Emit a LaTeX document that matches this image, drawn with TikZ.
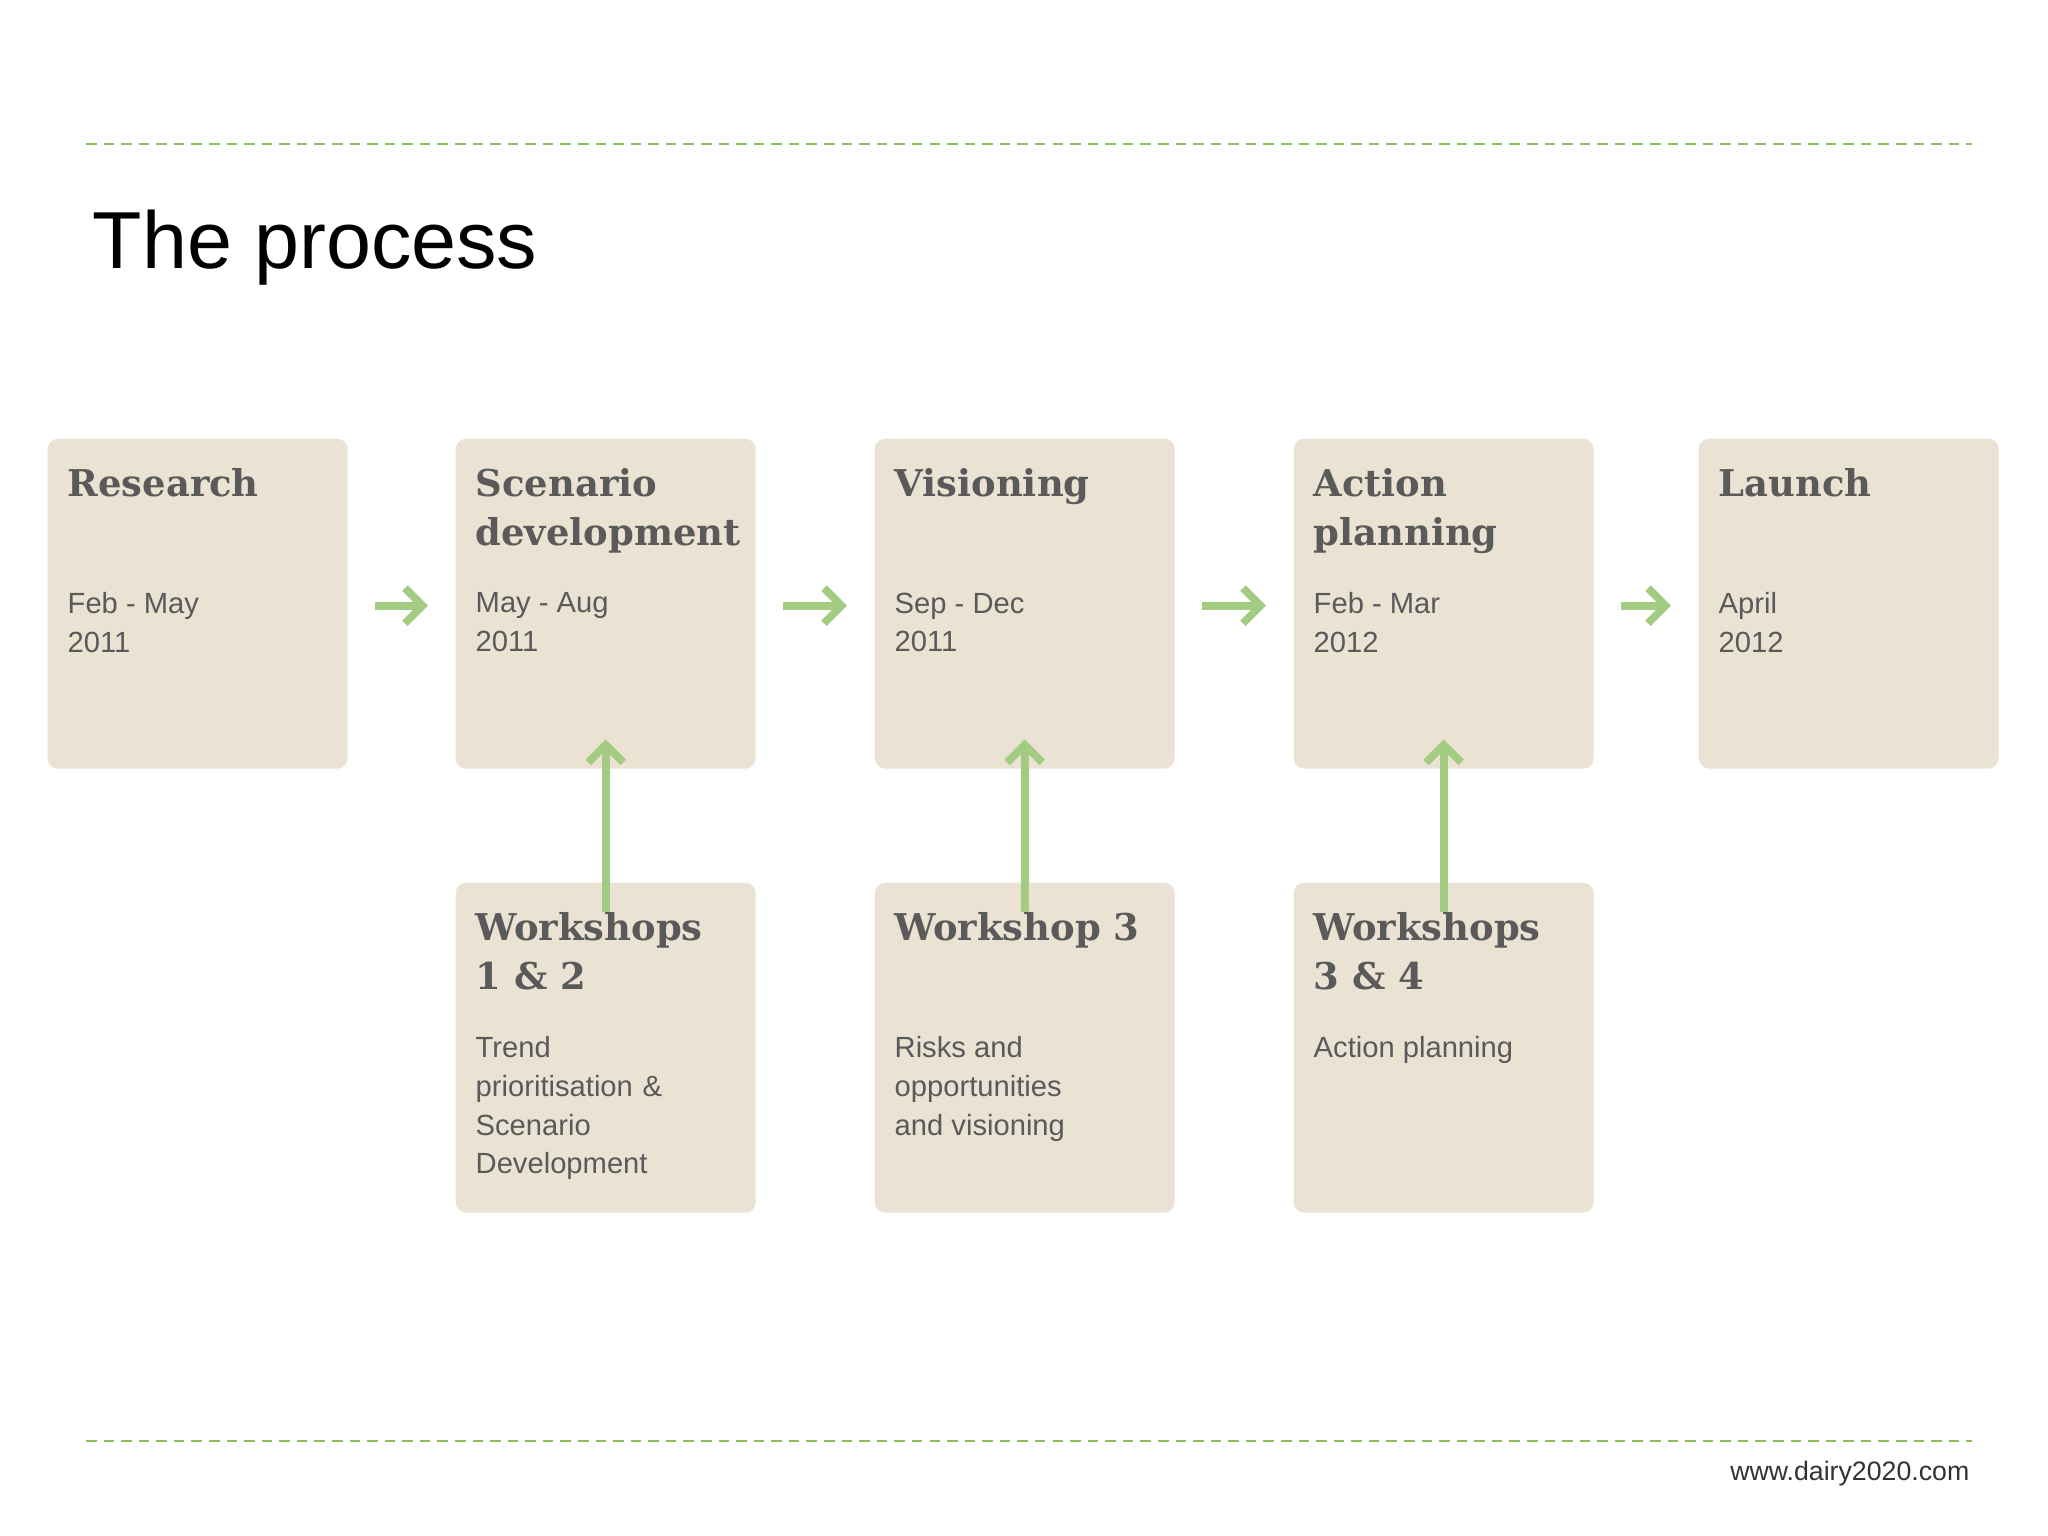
\documentclass[tikz,border=0pt]{standalone}
\usepackage{fontspec}
\setmainfont{Liberation Sans}
\newfontfamily\slab{DejaVu Serif}
\usetikzlibrary{arrows.meta}
\definecolor{boxfill}{HTML}{EAE3D3}
\definecolor{grn}{HTML}{8DBE5C}
\definecolor{arr}{HTML}{A3CB82}
\definecolor{txt}{HTML}{5A5A5A}
\tikzset{
  card/.style={fill=boxfill,rounded corners=3pt,minimum width=3.0cm,minimum height=3.3cm,inner sep=0pt},
  ttl/.style={anchor=north west,inner sep=0pt,align=left,text=txt,font=\slab\bfseries\fontsize{10.5}{14}\selectfont},
  bod/.style={anchor=north west,inner sep=0pt,align=left,text=txt,font=\fontsize{8.3}{11}\selectfont},
  harr/.style={arr,line width=2.2pt,-{Straight Barb[length=5pt,width=10pt,line width=2.2pt]}},
  sep/.style={grn,dashed,line width=0.6pt,dash pattern=on 3pt off 2pt}
}
\begin{document}
\begin{tikzpicture}[x=1cm,y=-1cm]
\useasboundingbox[fill=white] (0,0) rectangle (20.48,15.36);
\draw[sep] (0.86,1.44) -- (19.72,1.44);
\draw[sep] (0.86,14.41) -- (19.72,14.41);
\node[anchor=west,inner sep=0pt,font=\fontsize{23}{26}\selectfont] (title) at (0.92,2.48) {The process};
\node[anchor=east,inner sep=0pt,font=\fontsize{7.6}{9}\selectfont,text=black!80] (web) at (19.70,14.74) {www.dairy2020.com};
% top row
\foreach \n/\x in {r/0.47,s/4.55,v/8.74,a/12.93,l/16.98}{
  \node[card,anchor=north west] (\n) at (\x,4.38) {};
}
\foreach \n/\x in {ws/4.55,wv/8.74,wa/12.93}{
  \node[card,anchor=north west] (\n) at (\x,8.82) {};
}
\node[ttl] (rt) at ([xshift=0.2cm,yshift=-0.3cm]r.north west) {Research};
\node[ttl] (st) at ([xshift=0.2cm,yshift=-0.3cm]s.north west) {Scenario\\development};
\node[ttl] (vt) at ([xshift=0.2cm,yshift=-0.3cm]v.north west) {Visioning};
\node[ttl] (at) at ([xshift=0.2cm,yshift=-0.3cm]a.north west) {Action\\planning};
\node[ttl] (lt) at ([xshift=0.2cm,yshift=-0.3cm]l.north west) {Launch};
\node[bod] (rd) at ([xshift=0.2cm,yshift=-1.54cm]r.north west) {Feb - May\\2011};
\node[bod] (sd) at ([xshift=0.2cm,yshift=-1.54cm]s.north west) {May - Aug\\2011};
\node[bod] (vd) at ([xshift=0.2cm,yshift=-1.54cm]v.north west) {Sep - Dec\\2011};
\node[bod] (ad) at ([xshift=0.2cm,yshift=-1.54cm]a.north west) {Feb - Mar\\2012};
\node[bod] (ld) at ([xshift=0.2cm,yshift=-1.54cm]l.north west) {April\\2012};
\node[ttl] (wst) at ([xshift=0.2cm,yshift=-0.3cm]ws.north west) {Workshops\\1 \& 2};
\node[ttl] (wvt) at ([xshift=0.2cm,yshift=-0.3cm]wv.north west) {Workshop 3};
\node[ttl] (wat) at ([xshift=0.2cm,yshift=-0.3cm]wa.north west) {Workshops\\3 \& 4};
\node[bod,text width=2.6cm] (wsd) at ([xshift=0.2cm,yshift=-1.54cm]ws.north west) {Trend\\prioritisation \&\\Scenario\\Development};
\node[bod] (wvd) at ([xshift=0.2cm,yshift=-1.54cm]wv.north west) {Risks and\\opportunities\\and visioning};
\node[bod] (wad) at ([xshift=0.2cm,yshift=-1.54cm]wa.north west) {Action planning};
% arrows
\foreach \p/\q in {r/s,s/v,v/a,a/l}{
  \draw[harr] ([xshift=0.27cm,yshift=-0.02cm]\p.east) -- ([xshift=-0.27cm,yshift=-0.02cm]\q.west);
}
\foreach \p/\q in {ws/s,wv/v,wa/a}{
  \draw[harr] ([yshift=-0.3cm]\p.north) -- ([yshift=0.3cm]\q.south);
}
\end{tikzpicture}
\end{document}
